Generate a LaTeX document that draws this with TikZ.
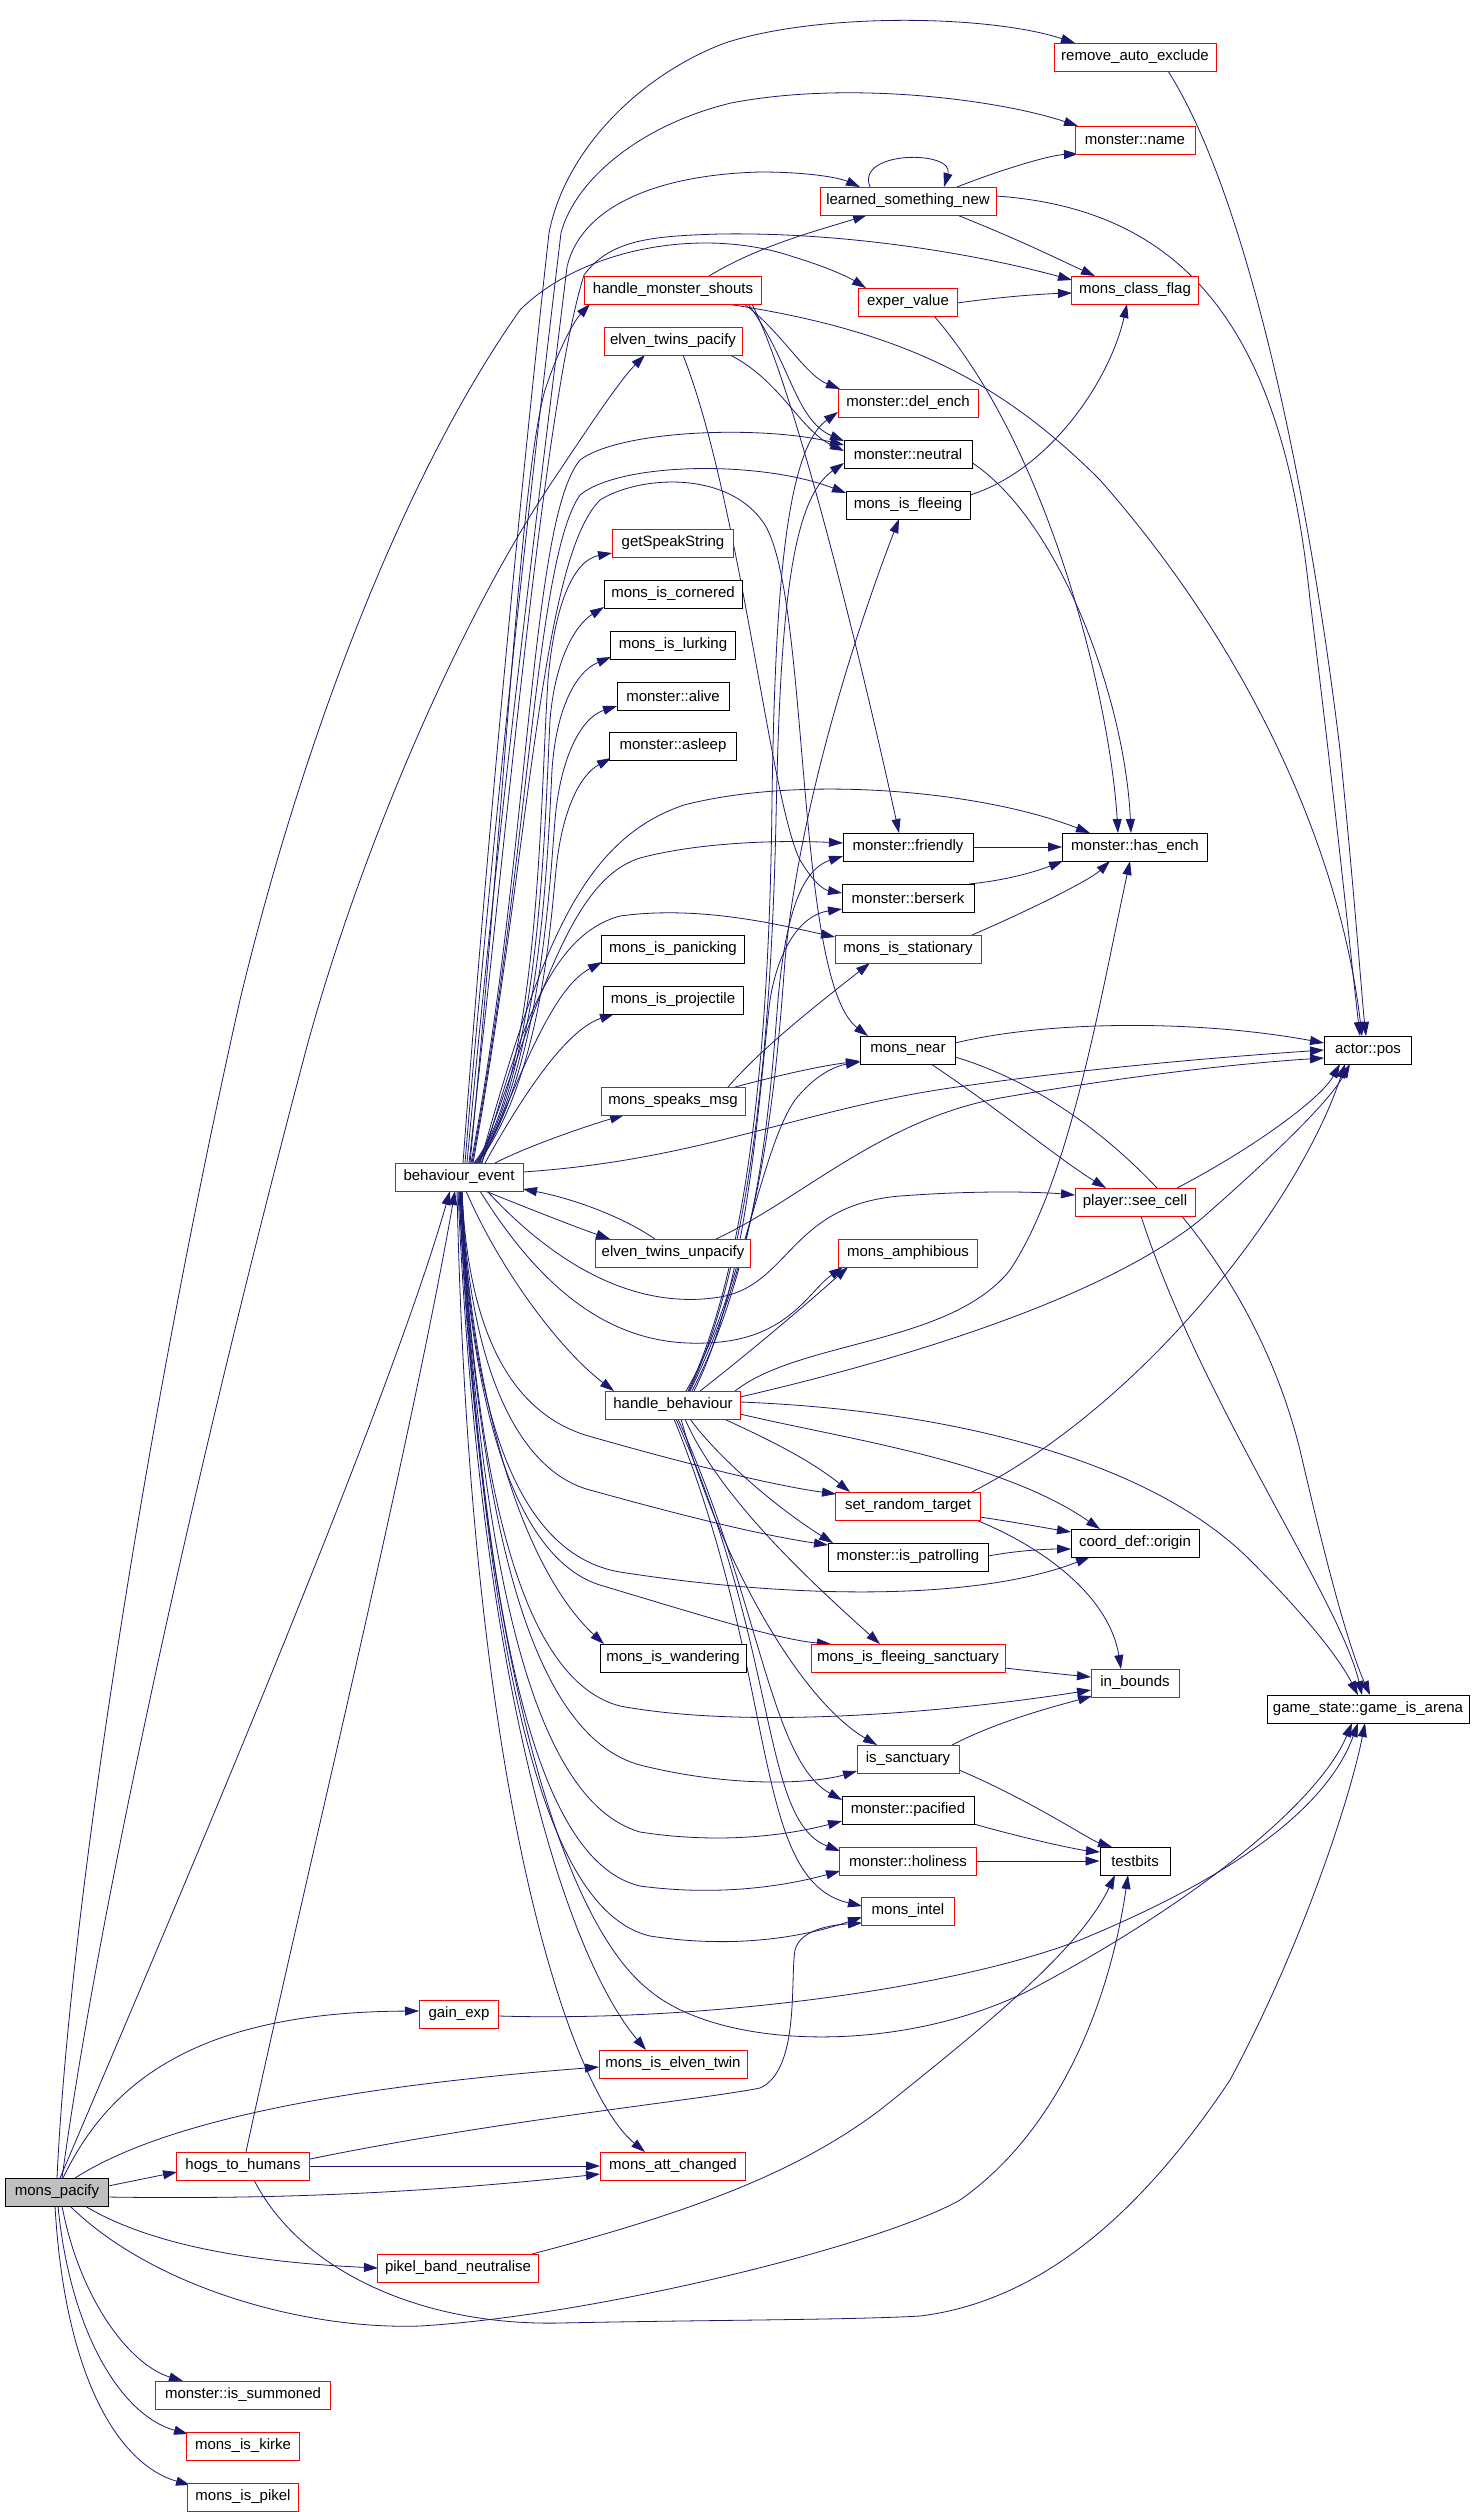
\documentclass[tikz,border=0pt]{standalone}
\usepackage{fontspec}
\setmainfont{Liberation Sans}
\usetikzlibrary{arrows.meta,calc}
\definecolor{edgec}{HTML}{191970}
\definecolor{nodegray}{HTML}{BFBFBF}
\pgfdeclarelayer{bg}
\pgfdeclarelayer{edges}
\pgfsetlayers{bg,edges,main}
\begin{document}
\begin{tikzpicture}[x=1pt,y=-1pt,
 fn/.style={draw=red,line width=1pt,fill=white,minimum height=28pt,inner sep=0pt,font=\fontsize{15}{18}\selectfont,text=black},
 bn/.style={fn,draw=black},
 arr/.style={draw=edgec,line width=0.8pt,-{Triangle[length=14pt,width=9pt]}}]
\begin{pgfonlayer}{bg}
\fill[white] (0,0) rectangle (1472,2512);
\end{pgfonlayer}
\useasboundingbox (0,0) rectangle (1472,2512);
% ---------- nodes ----------
\node[bn,fill=nodegray,minimum width=103pt] (mp) at (57,2192) {mons\_pacify};
\node[fn,minimum width=128pt] (be) at (459,1177) {behaviour\_event};
\node[fn,minimum width=133pt] (hth) at (243,2166) {hogs\_to\_humans};
\node[fn,minimum width=79pt] (ge) at (459,2014) {gain\_exp};
\node[fn,minimum width=161pt] (pbn) at (458,2268) {pikel\_band\_neutralise};
\node[fn,minimum width=175pt] (mis) at (243,2395) {monster::is\_summoned};
\node[fn,minimum width=113pt] (mik) at (243,2446) {mons\_is\_kirke};
\node[fn,minimum width=111pt] (mip) at (243,2497) {mons\_is\_pikel};
\node[fn,minimum width=177pt] (hms) at (673,290) {handle\_monster\_shouts};
\node[fn,minimum width=138pt] (etp) at (673,341) {elven\_twins\_pacify};
\node[fn,minimum width=121pt] (gss) at (673,543) {getSpeakString};
\node[bn,minimum width=138pt] (mic) at (673,594) {mons\_is\_cornered};
\node[bn,minimum width=125pt] (mil) at (673,645) {mons\_is\_lurking};
\node[bn,minimum width=112pt] (mal) at (673,696) {monster::alive};
\node[bn,minimum width=127pt] (mas) at (673,746) {monster::asleep};
\node[bn,minimum width=143pt] (mpa) at (673,949) {mons\_is\_panicking};
\node[bn,minimum width=140pt] (mpr) at (673,1000) {mons\_is\_projectile};
\node[fn,minimum width=144pt] (msm) at (673,1101) {mons\_speaks\_msg};
\node[fn,minimum width=155pt] (etu) at (673,1253) {elven\_twins\_unpacify};
\node[fn,minimum width=135pt] (hb) at (673,1405) {handle\_behaviour};
\node[bn,minimum width=146pt] (miw) at (673,1658) {mons\_is\_wandering};
\node[fn,minimum width=148pt] (met) at (673,2064) {mons\_is\_elven\_twin};
\node[fn,minimum width=145pt] (mac) at (673,2166) {mons\_att\_changed};
\node[fn,minimum width=176pt] (lsn) at (908,201) {learned\_something\_new};
\node[fn,minimum width=99pt] (ev) at (908,302) {exper\_value};
\node[fn,minimum width=140pt] (mde) at (908,403) {monster::del\_ench};
\node[bn,minimum width=128pt] (mne) at (908,454) {monster::neutral};
\node[bn,minimum width=124pt] (mif) at (908,505) {mons\_is\_fleeing};
\node[bn,minimum width=130pt] (mfr) at (908,847) {monster::friendly};
\node[bn,minimum width=132pt] (mbe) at (908,898) {monster::berserk};
\node[fn,minimum width=146pt] (mst) at (908,949) {mons\_is\_stationary};
\node[bn,minimum width=95pt] (mn) at (908,1050) {mons\_near};
\node[fn,minimum width=139pt] (mam) at (908,1253) {mons\_amphibious};
\node[fn,minimum width=145pt] (srt) at (908,1506) {set\_random\_target};
\node[bn,minimum width=160pt] (mpt) at (908,1557) {monster::is\_patrolling};
\node[fn,minimum width=194pt] (mfs) at (908,1658) {mons\_is\_fleeing\_sanctuary};
\node[fn,minimum width=102pt] (isa) at (908,1759) {is\_sanctuary};
\node[bn,minimum width=132pt] (mpc) at (908,1810) {monster::pacified};
\node[fn,minimum width=137pt] (mho) at (908,1861) {monster::holiness};
\node[fn,minimum width=93pt] (mint) at (908,1911) {mons\_intel};
\node[fn,minimum width=162pt] (rae) at (1135,57) {remove\_auto\_exclude};
\node[fn,minimum width=120pt] (mname) at (1135,140) {monster::name};
\node[fn,minimum width=127pt] (mcf) at (1135,290) {mons\_class\_flag};
\node[bn,minimum width=145pt] (mhe) at (1135,847) {monster::has\_ench};
\node[fn,minimum width=120pt] (psc) at (1135,1202) {player::see\_cell};
\node[bn,minimum width=128pt] (cdo) at (1135,1543) {coord\_def::origin};
\node[fn,minimum width=88pt] (ib) at (1135,1683) {in\_bounds};
\node[bn,minimum width=70pt] (tb) at (1135,1861) {testbits};
\node[bn,minimum width=87pt] (ap) at (1368,1050) {actor::pos};
\node[bn,minimum width=202pt] (gia) at (1368,1709) {game\_state::game\_is\_arena};
% ---------- edges ----------
\begin{pgfonlayer}{edges}
% behaviour_event upward fan
\draw[arr] ($(be)+(4,-14)$) .. controls (490,800) and (525,450) .. (549,233) .. controls (565,150) and (640,75) .. (725,43) .. controls (820,12) and (990,15) .. ($(rae)+(-60,-14)$);
\draw[arr] ($(be)+(6,-14)$) .. controls (495,800) and (535,450) .. (561,233) .. controls (575,180) and (640,125) .. (731,103) .. controls (850,80) and (1000,100) .. ($(mname)+(-57,-14)$);
\draw[arr] ($(be)+(8,-14)$) .. controls (500,800) and (545,450) .. (567,267) .. controls (580,210) and (650,175) .. (760,172) .. controls (810,172) and (840,178) .. ($(lsn)+(-48,-14)$);
\draw[arr] ($(be)+(10,-14)$) .. controls (510,800) and (545,400) .. (584,275) .. controls (610,240) and (650,236) .. (720,234) .. controls (850,232) and (980,255) .. ($(mcf)+(-63,-10)$);
\draw[arr] ($(be)+(11,-14)$) .. controls (505,800) and (520,480) .. (545,390) .. controls (560,345) and (575,320) .. ($(hms)+(-83,14)$);
\draw[arr] ($(be)+(12,-14)$) .. controls (530,850) and (530,520) .. (580,460) .. controls (620,430) and (760,425) .. ($(mne)+(-64,-9)$);
\draw[arr] ($(be)+(13,-14)$) .. controls (530,850) and (535,560) .. (580,495) .. controls (620,462) and (760,460) .. ($(mif)+(-62,-12)$);
\draw[arr] ($(be)+(14,-14)$) .. controls (530,850) and (540,560) .. (600,500) .. controls (640,475) and (730,470) .. (765,525) .. controls (810,600) and (795,980) .. ($(mn)+(-40,-14)$);
\draw[arr] ($(be)+(15,-14)$) .. controls (540,1080) and (540,800) .. (548,680) .. controls (555,600) and (575,560) .. ($(gss)+(-61,10)$);
\draw[arr] ($(be)+(16,-14)$) .. controls (540,1080) and (545,820) .. (550,720) .. controls (555,660) and (575,625) .. ($(mic)+(-69,13)$);
\draw[arr] ($(be)+(17,-14)$) .. controls (540,1080) and (548,850) .. (552,770) .. controls (556,710) and (575,672) .. ($(mil)+(-62,12)$);
\draw[arr] ($(be)+(18,-14)$) .. controls (540,1080) and (550,880) .. (555,820) .. controls (560,760) and (580,718) .. ($(mal)+(-56,10)$);
\draw[arr] ($(be)+(19,-14)$) .. controls (540,1080) and (550,930) .. (556,870) .. controls (562,810) and (580,775) .. ($(mas)+(-62,12)$);
\draw[arr] ($(be)+(20,-14)$) .. controls (540,1000) and (570,880) .. (640,858) .. controls (700,842) and (780,840) .. ($(mfr)+(-65,-4)$);
\draw[arr] ($(be)+(21,-14)$) .. controls (540,950) and (580,840) .. (684,805) .. controls (800,775) and (980,790) .. ($(mhe)+(-45,-14)$);
\draw[arr] ($(be)+(22,-14)$) .. controls (520,1080) and (550,990) .. ($(mpa)+(-71,13)$);
\draw[arr] ($(be)+(23,-14)$) .. controls (520,1030) and (550,935) .. (620,916) .. controls (700,905) and (780,925) .. ($(mst)+(-73,-12)$);
\draw[arr] ($(be)+(26,-14)$) .. controls (520,1100) and (565,1030) .. ($(mpr)+(-59,14)$);
\draw[arr] ($(be)+(36,-14)$) .. controls (530,1145) and (590,1125) .. ($(msm)+(-49,14)$);
% behaviour_event right and downward
\draw[arr] ($(be)+(64,-5)$) .. controls (700,1160) and (800,1110) .. (950,1088) .. controls (1100,1066) and (1250,1055) .. ($(ap)+(-44,0)$);
\draw[arr] ($(be)+(26,14)$) .. controls (520,1205) and (570,1225) .. ($(etu)+(-63,-14)$);
\draw[arr] ($(etu)+(-18,-14)$) .. controls (620,1215) and (570,1198) .. ($(be)+(64,12)$);
\draw[arr] ($(be)+(7,14)$) .. controls (500,1270) and (560,1350) .. ($(hb)+(-59,-14)$);
\draw[arr] ($(be)+(28,14)$) .. controls (560,1270) and (640,1310) .. (720,1297) .. controls (790,1285) and (790,1205) .. (900,1196) .. controls (980,1190) and (1040,1192) .. ($(psc)+(-60,-7)$);
\draw[arr] ($(be)+(21,14)$) .. controls (560,1320) and (640,1350) .. (720,1342) .. controls (790,1335) and (810,1290) .. ($(mam)+(-65,14)$);
\draw[arr] ($(be)+(3,14)$) .. controls (468,1330) and (510,1415) .. (592,1437) .. controls (680,1462) and (770,1485) .. ($(srt)+(-72,-12)$);
\draw[arr] ($(be)+(3,14)$) .. controls (468,1360) and (515,1470) .. (590,1490) .. controls (680,1515) and (760,1535) .. ($(mpt)+(-80,-12)$);
\draw[arr] ($(be)+(3,14)$) .. controls (470,1420) and (520,1555) .. (620,1572) .. controls (800,1600) and (980,1600) .. ($(cdo)+(-45,14)$);
\draw[arr] ($(be)+(2,14)$) .. controls (475,1450) and (540,1585) .. ($(miw)+(-69,-14)$);
\draw[arr] ($(be)+(2,14)$) .. controls (470,1420) and (520,1560) .. (600,1585) .. controls (700,1615) and (780,1640) .. ($(mfs)+(-77,-14)$);
\draw[arr] ($(be)+(2,14)$) .. controls (475,1480) and (520,1680) .. (620,1706) .. controls (750,1730) and (950,1712) .. ($(ib)+(-44,7)$);
\draw[arr] ($(be)+(1,14)$) .. controls (478,1520) and (530,1735) .. (640,1765) .. controls (740,1790) and (820,1782) .. ($(isa)+(-51,12)$);
\draw[arr] ($(be)+(1,14)$) .. controls (480,1560) and (530,1800) .. (640,1832) .. controls (730,1846) and (800,1832) .. ($(mpc)+(-66,11)$);
\draw[arr] ($(be)+(1,14)$) .. controls (482,1600) and (530,1860) .. (640,1886) .. controls (730,1898) and (800,1882) .. ($(mho)+(-68,10)$);
\draw[arr] ($(be)+(0,14)$) .. controls (485,1650) and (540,1910) .. (650,1936) .. controls (740,1950) and (810,1935) .. ($(mint)+(-46,6)$);
\draw[arr] ($(be)+(0,14)$) .. controls (480,1650) and (560,1920) .. (649,1990) .. controls (720,2050) and (900,2055) .. (1030,1990) .. controls (1200,1900) and (1320,1800) .. ($(gia)+(-16,14)$);
\draw[arr] ($(be)+(-1,14)$) .. controls (480,1700) and (570,1960) .. ($(met)+(-27,-14)$);
\draw[arr] ($(be)+(-2,14)$) .. controls (470,1800) and (570,2090) .. ($(mac)+(-28,-14)$);
% handle_behaviour
\draw[arr] ($(hb)+(17,-14)$) .. controls (760,1250) and (775,1100) .. (785,960) .. controls (800,800) and (860,620) .. ($(mif)+(-9,14)$);
\draw[arr] ($(hb)+(15,-14)$) .. controls (755,1250) and (770,1000) .. (772,800) .. controls (775,600) and (785,450) .. ($(mde)+(-70,9)$);
\draw[arr] ($(hb)+(16,-14)$) .. controls (757,1250) and (772,1000) .. (776,820) .. controls (780,620) and (790,500) .. ($(mne)+(-64,9)$);
\draw[arr] ($(hb)+(19,-14)$) .. controls (760,1260) and (770,1100) .. (778,1000) .. controls (785,920) and (800,870) .. ($(mfr)+(-65,9)$);
\draw[arr] ($(hb)+(21,-14)$) .. controls (750,1280) and (760,1080) .. (770,1000) .. controls (778,950) and (800,915) .. ($(mbe)+(-66,11)$);
\draw[arr] ($(hb)+(62,-14)$) .. controls (800,1340) and (950,1345) .. (1010,1270) .. controls (1070,1180) and (1100,1000) .. ($(mhe)+(-5,14)$);
\draw[arr] ($(hb)+(27,-14)$) .. controls (740,1360) and (800,1310) .. ($(mam)+(-60,14)$);
\draw[arr] ($(hb)+(13,-14)$) .. controls (740,1300) and (760,1150) .. (795,1100) .. controls (815,1075) and (835,1066) .. ($(mn)+(-48,12)$);
\draw[arr] ($(hb)+(67,-8)$) .. controls (900,1360) and (1100,1300) .. (1200,1220) .. controls (1280,1150) and (1330,1100) .. ($(ap)+(-18,14)$);
\draw[arr] ($(hb)+(67,-3)$) .. controls (950,1410) and (1150,1460) .. (1250,1560) .. controls (1310,1620) and (1340,1660) .. ($(gia)+(-10,-14)$);
\draw[arr] ($(hb)+(67,9)$) .. controls (850,1440) and (1000,1460) .. ($(cdo)+(-35,-14)$);
\draw[arr] ($(hb)+(51,14)$) .. controls (770,1440) and (810,1460) .. ($(srt)+(-58,-14)$);
\draw[arr] ($(hb)+(17,14)$) .. controls (720,1460) and (780,1510) .. ($(mpt)+(-75,-14)$);
\draw[arr] ($(hb)+(12,14)$) .. controls (720,1500) and (820,1590) .. ($(mfs)+(-28,-14)$);
\draw[arr] ($(hb)+(8,14)$) .. controls (720,1560) and (800,1700) .. ($(isa)+(-31,-14)$);
\draw[arr] ($(hb)+(5,14)$) .. controls (760,1600) and (770,1760) .. ($(mpc)+(-66,-10)$);
\draw[arr] ($(hb)+(3,14)$) .. controls (780,1650) and (760,1820) .. ($(mho)+(-68,-10)$);
\draw[arr] ($(hb)+(1,14)$) .. controls (780,1680) and (750,1880) .. ($(mint)+(-46,-5)$);
% handle_monster_shouts, elven_twins_pacify
\draw[arr] ($(hms)+(36,-14)$) .. controls (760,245) and (820,230) .. ($(lsn)+(-41,14)$);
\draw[arr] ($(hms)+(71,14)$) .. controls (780,330) and (805,375) .. ($(mde)+(-68,-14)$);
\draw[arr] ($(hms)+(75,14)$) .. controls (790,360) and (795,420) .. ($(mne)+(-64,-13)$);
\draw[arr] ($(hms)+(79,14)$) .. controls (800,400) and (870,700) .. ($(mfr)+(-9,-14)$);
\draw[arr] ($(hms)+(54,14)$) .. controls (900,330) and (1000,380) .. (1100,480) .. controls (1250,650) and (1340,850) .. ($(ap)+(-6,-14)$);
\draw[arr] ($(etp)+(57,14)$) .. controls (780,380) and (800,430) .. ($(mne)+(-64,-3)$);
\draw[arr] ($(etp)+(10,14)$) .. controls (740,500) and (770,800) .. (800,860) .. controls (815,885) and (825,890) .. ($(mbe)+(-66,-5)$);
% right cluster
\draw[arr] ($(lsn)+(-38,-14)$) .. controls (855,150) and (955,150) .. ($(lsn)+(36,-14)$);
\draw[arr] ($(lsn)+(49,-14)$) .. controls (1000,170) and (1050,155) .. ($(mname)+(-57,14)$);
\draw[arr] ($(lsn)+(49,14)$) .. controls (1020,240) and (1060,260) .. ($(mcf)+(-40,-14)$);
\draw[arr] ($(lsn)+(88,-5)$) .. controls (1200,210) and (1285,350) .. (1310,600) .. controls (1335,800) and (1350,950) .. ($(ap)+(-8,-14)$);
\draw[arr] ($(rae)+(33,14)$) .. controls (1250,200) and (1310,500) .. (1340,750) .. controls (1355,900) and (1362,1000) .. ($(ap)+(-2,-14)$);
\draw[arr] ($(ev)+(49,1)$) .. controls (1000,297) and (1040,294) .. ($(mcf)+(-63,3)$);
\draw[arr] ($(ev)+(26,14)$) .. controls (1050,450) and (1110,700) .. ($(mhe)+(-17,-14)$);
\draw[arr] ($(mne)+(63,8)$) .. controls (1060,520) and (1125,700) .. ($(mhe)+(-4,-14)$);
\draw[arr] ($(mif)+(62,-10)$) .. controls (1050,470) and (1110,380) .. ($(mcf)+(-8,14)$);
\draw[arr] (mfr.east) -- (mhe.west);
\draw[arr] ($(mbe)+(61,-14)$) .. controls (1010,880) and (1040,870) .. ($(mhe)+(-72,14)$);
\draw[arr] ($(mst)+(64,-14)$) .. controls (1030,910) and (1090,880) .. ($(mhe)+(-25,14)$);
\draw[arr] ($(mn)+(47,-7)$) .. controls (1050,1020) and (1200,1020) .. ($(ap)+(-44,-7)$);
\draw[arr] ($(mn)+(23,14)$) .. controls (1000,1110) and (1060,1160) .. ($(psc)+(-29,-14)$);
\draw[arr] ($(mn)+(47,7)$) .. controls (1100,1100) and (1250,1250) .. (1300,1450) .. controls (1330,1580) and (1350,1650) .. ($(gia)+(2,-14)$);
\draw[arr] ($(msm)+(62,-14)$) .. controls (780,1075) and (820,1066) .. ($(mn)+(-48,11)$);
\draw[arr] ($(msm)+(55,-14)$) .. controls (760,1050) and (810,1010) .. ($(mst)+(-38,14)$);
\draw[arr] ($(etu)+(43,-14)$) .. controls (800,1200) and (880,1120) .. (1000,1098) .. controls (1150,1072) and (1260,1062) .. ($(ap)+(-44,8)$);
\draw[arr] ($(psc)+(42,-14)$) .. controls (1250,1150) and (1320,1100) .. ($(ap)+(-28,14)$);
\draw[arr] ($(psc)+(6,14)$) .. controls (1200,1400) and (1340,1600) .. ($(gia)+(-6,-14)$);
\draw[arr] ($(srt)+(72,11)$) .. controls (1020,1523) and (1040,1527) .. ($(cdo)+(-64,-11)$);
\draw[arr] ($(srt)+(68,14)$) .. controls (1050,1550) and (1110,1600) .. ($(ib)+(-14,-14)$);
\draw[arr] ($(srt)+(64,-14)$) .. controls (1150,1400) and (1300,1200) .. ($(ap)+(-23,14)$);
\draw[arr] ($(mpt)+(80,-1)$) .. controls (1020,1550) and (1050,1549) .. ($(cdo)+(-64,6)$);
\draw[arr] ($(mfs)+(97,10)$) .. controls (1040,1672) and (1070,1675) .. ($(ib)+(-44,-6)$);
\draw[arr] ($(isa)+(44,-14)$) .. controls (1000,1720) and (1060,1705) .. ($(ib)+(-43,13)$);
\draw[arr] ($(isa)+(51,11)$) .. controls (1030,1800) and (1090,1840) .. ($(tb)+(-23,-14)$);
\draw[arr] ($(mpc)+(66,14)$) .. controls (1030,1840) and (1080,1850) .. ($(tb)+(-35,-9)$);
\draw[arr] (mho.east) -- (tb.west);
% mons_pacify and the bottom nodes
\draw[arr] ($(mp)+(0,-14)$) .. controls (70,1900) and (150,1400) .. (240,1000) .. controls (300,750) and (400,480) .. (520,310) .. controls (580,250) and (700,225) .. (794,257) .. controls (830,268) and (850,278) .. ($(ev)+(-42,-14)$);
\draw[arr] ($(mp)+(5,-14)$) .. controls (100,1900) and (200,1450) .. (306,1050) .. controls (360,850) and (460,620) .. (550,485) .. controls (590,425) and (620,380) .. ($(etp)+(-28,14)$);
\draw[arr] ($(mp)+(3,-14)$) .. controls (200,1850) and (390,1400) .. ($(be)+(-9,14)$);
\draw[arr] ($(hth)+(3,-14)$) .. controls (300,1900) and (410,1450) .. ($(be)+(-4,14)$);
\draw[arr] ($(mp)+(6,-14)$) .. controls (110,2080) and (200,2012) .. ($(ge)+(-40,-3)$);
\draw[arr] ($(mp)+(18,-14)$) .. controls (150,2130) and (300,2090) .. ($(met)+(-74,3)$);
\draw[arr] ($(mp)+(51,-6)$) -- ($(hth)+(-66,6)$);
\draw[arr] ($(mp)+(51,5)$) .. controls (300,2200) and (450,2190) .. ($(mac)+(-73,8)$);
\draw[arr] (hth.east) -- (mac.west);
\draw[arr] ($(hth)+(67,-7)$) .. controls (500,2120) and (700,2100) .. (760,2088) .. controls (800,2070) and (790,1980) .. (795,1950) .. controls (800,1930) and (830,1925) .. ($(mint)+(-46,12)$);
\draw[arr] ($(hth)+(11,14)$) .. controls (300,2270) and (420,2326) .. (560,2323) .. controls (700,2320) and (850,2320) .. (920,2316) .. controls (1050,2300) and (1150,2200) .. (1230,2080) .. controls (1300,1950) and (1350,1800) .. ($(gia)+(-3,14)$);
\draw[arr] ($(mp)+(13,14)$) .. controls (150,2285) and (300,2330) .. (420,2326) .. controls (600,2315) and (880,2245) .. (960,2200) .. controls (1060,2130) and (1110,2000) .. ($(tb)+(-7,14)$);
\draw[arr] ($(pbn)+(74,-14)$) .. controls (700,2210) and (800,2170) .. (880,2110) .. controls (980,2030) and (1080,1950) .. ($(tb)+(-20,14)$);
\draw[arr] ($(mp)+(28,14)$) .. controls (150,2245) and (250,2262) .. ($(pbn)+(-80,0)$);
\draw[arr] ($(mp)+(5,14)$) .. controls (80,2300) and (130,2365) .. ($(mis)+(-60,-14)$);
\draw[arr] ($(mp)+(1,14)$) .. controls (70,2330) and (120,2415) .. ($(mik)+(-55,-12)$);
\draw[arr] ($(mp)+(-2,14)$) .. controls (65,2380) and (120,2465) .. ($(mip)+(-53,-12)$);
\draw[arr] ($(ge)+(40,2)$) .. controls (700,2022) and (950,1990) .. (1080,1940) .. controls (1250,1870) and (1330,1800) .. ($(gia)+(-10,14)$);
\end{pgfonlayer}
\end{tikzpicture}
\end{document}
